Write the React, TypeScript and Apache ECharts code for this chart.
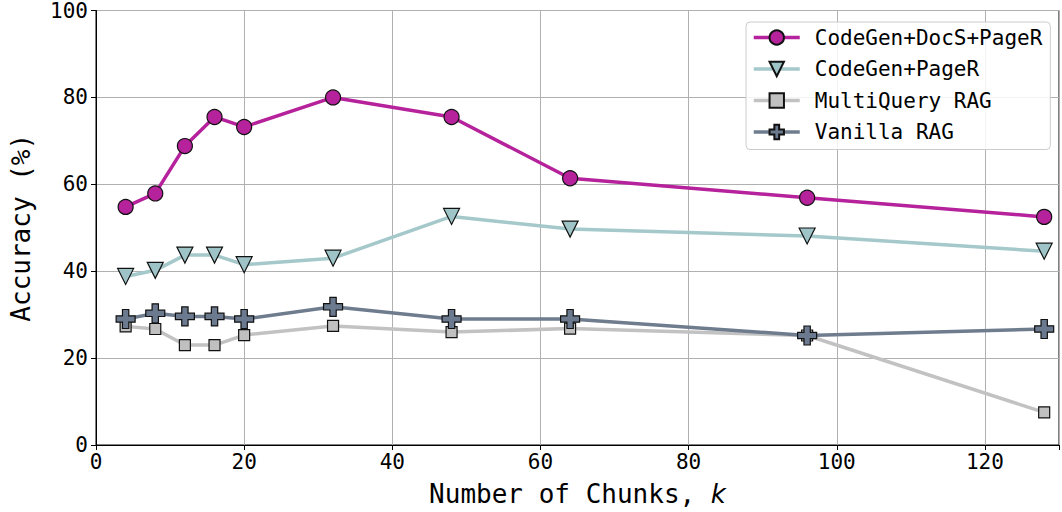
import React, { useEffect, useRef } from "react";
import * as echarts from "echarts";

const chunks = [4, 8, 12, 16, 20, 32, 48, 64, 96, 128];
const seriesNames = ["CodeGen+DocS+PageR", "CodeGen+PageR", "MultiQuery RAG", "Vanilla RAG"];
const docsPageR = [54.8, 57.9, 68.8, 75.5, 73.2, 80.0, 75.5, 61.4, 56.9, 52.5];
const pageR = [38.8, 40.2, 43.7, 43.7, 41.5, 43.0, 52.6, 49.7, 48.1, 44.6];
const multiQuery = [27.3, 26.7, 23.0, 23.0, 25.3, 27.4, 26.0, 26.8, 25.2, 7.5];
const vanilla = [29.0, 30.3, 29.6, 29.6, 29.0, 31.8, 29.0, 29.0, 25.2, 26.7];
const xTicksMax = 130;

const FONT = "'DejaVu Sans Mono', monospace";
const PLUS = "path://M2,0 L4,0 L4,2 L6,2 L6,4 L4,4 L4,6 L2,6 L2,4 L0,4 L0,2 L2,2 Z";
const TRI_DOWN = "path://M0,0 L2,0 L1,2 Z";

const pairs = (ys: number[]) => chunks.map((x, i) => [x, ys[i]]);

export default function App() {
  const ref = useRef<HTMLDivElement>(null);
  useEffect(() => {
    if (!ref.current) return;
    const chart = echarts.init(ref.current, null, { renderer: "svg" });
    const mk = (name: string, data: number[], line: string, fill: string, symbol: string, size: number) => ({
      name,
      type: "line",
      data: pairs(data),
      symbol,
      symbolSize: size,
      showAllSymbol: true,
      lineStyle: { color: line, width: 3.5 },
      itemStyle: { color: fill, borderColor: "#111", borderWidth: 1.2 },
      emphasis: { disabled: true },
    });
    chart.setOption({
      animation: false,
      backgroundColor: "#fff",
      grid: { left: 96, right: 2, top: 10, bottom: 67, show: true, borderColor: "#000", borderWidth: 1, backgroundColor: "transparent" },
      legend: {
        orient: "vertical",
        left: 746,
        top: 22,
        padding: [5, 8, 7, 6],
        itemWidth: 46,
        itemHeight: 18,
        itemGap: 10.5,
        backgroundColor: "rgba(255,255,255,0.85)",
        borderColor: "#cccccc",
        borderWidth: 1,
        borderRadius: 4,
        lineStyle: { width: 3.5 },
        textStyle: { fontFamily: FONT, fontSize: 21, color: "#000", padding: [0, 0, 0, 10] },
        data: seriesNames,
      },
      xAxis: {
        type: "value",
        min: 0,
        max: xTicksMax,
        interval: 20,
        name: "Number of Chunks, {i|k}",
        nameLocation: "middle",
        nameGap: 36,
        nameTextStyle: {
          fontFamily: FONT,
          fontSize: 26,
          color: "#000",
          rich: { i: { fontFamily: "'DejaVu Sans', sans-serif", fontStyle: "italic", fontSize: 26, color: "#000" } },
        },
        axisLine: { show: true, onZero: false, lineStyle: { color: "#000", width: 1 } },
        axisTick: { show: true, length: 5, lineStyle: { color: "#000" } },
        axisLabel: {
          fontFamily: FONT,
          fontSize: 21,
          color: "#000",
          margin: 6,
          formatter: (v: number) => (v === xTicksMax ? "" : String(v)),
        },
        splitLine: { show: true, lineStyle: { color: "#b0b0b0", width: 1 } },
      },
      yAxis: {
        type: "value",
        min: 0,
        max: 100,
        interval: 20,
        name: "Accuracy (%)",
        nameLocation: "middle",
        nameGap: 62,
        nameTextStyle: { fontFamily: FONT, fontSize: 26, color: "#000" },
        axisLine: { show: true, lineStyle: { color: "#000", width: 1 } },
        axisTick: { show: true, length: 5, lineStyle: { color: "#000" } },
        axisLabel: { fontFamily: FONT, fontSize: 21, color: "#000", margin: 8 },
        splitLine: { show: true, lineStyle: { color: "#b0b0b0", width: 1 } },
      },
      series: [
        mk(seriesNames[0], docsPageR, "#b5229b", "#b5229b", "circle", 15),
        mk(seriesNames[1], pageR, "#a5c8cb", "#9fc4c8", TRI_DOWN, 16),
        mk(seriesNames[2], multiQuery, "#c2c2c2", "#c0c0c0", "rect", 11),
        mk(seriesNames[3], vanilla, "#6e7c8e", "#6b7a8e", PLUS, 19),
      ],
    });
    return () => chart.dispose();
  }, []);
  return <div ref={ref} style={{ position: "fixed", left: 0, top: 0, width: 1062, height: 512 }} />;
}
